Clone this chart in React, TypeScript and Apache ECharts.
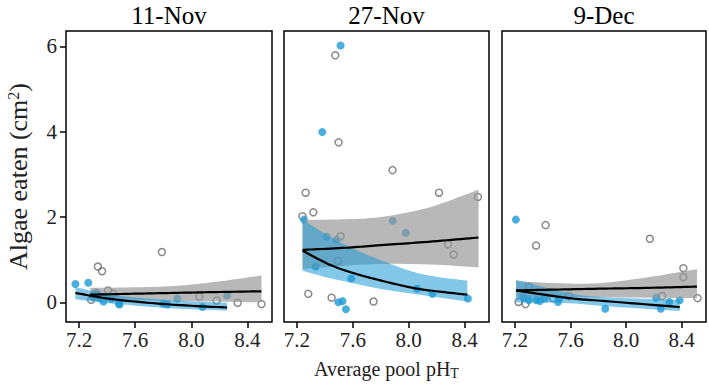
import React, { useEffect, useRef } from "react";
import * as echarts from "echarts";

const panelTitles = ["11-Nov", "27-Nov", "9-Dec"];
const xTicks = [7.2, 7.6, 8.0, 8.4];
const yTicks = [0, 2, 4, 6];

// Blue (filled) points per panel: [pH, algae eaten]
const blueNov11 = [
  [7.174, 0.43], [7.266, 0.46], [7.32, 0.23], [7.33, 0.2], [7.3, 0.12], [7.345, 0.1],
  [7.374, 0.02], [7.4, 0.15], [7.43, 0.08], [7.484, -0.03], [7.488, -0.05],
  [7.8, -0.03], [7.83, -0.05], [7.9, 0.09], [8.08, -0.11], [8.255, 0.16],
];
const greyNov11 = [
  [7.286, 0.06], [7.3, 0.15], [7.334, 0.84], [7.364, 0.73], [7.407, 0.28], [7.445, 0.2],
  [7.79, 1.18], [8.057, 0.14], [8.18, 0.04], [8.33, -0.01], [8.5, -0.04],
];
const blueNov27 = [
  [7.25, 1.94], [7.334, 0.84], [7.381, 3.99], [7.412, 1.54], [7.484, 1.47], [7.496, 0.0],
  [7.512, 6.02], [7.526, 0.03], [7.55, -0.16], [7.589, 0.56], [7.886, 1.91], [7.979, 1.63],
  [8.06, 0.32], [8.17, 0.2], [8.424, 0.09],
];
const greyNov27 = [
  [7.239, 2.02], [7.262, 2.57], [7.281, 0.2], [7.317, 2.11], [7.448, 0.11], [7.474, 5.79],
  [7.493, 0.97], [7.498, 3.75], [7.512, 1.55], [7.748, 0.02], [7.884, 3.1], [8.217, 2.57],
  [8.281, 1.36], [8.322, 1.12], [8.496, 2.47],
];
const blueDec9 = [
  [7.207, 1.94], [7.26, 0.12], [7.3, 0.05], [7.355, 0.05], [7.38, 0.03], [7.414, 0.09],
  [7.51, 0.01], [7.52, 0.09], [7.85, -0.15], [8.216, 0.11], [8.25, -0.15], [8.31, 0.01],
  [8.386, 0.05],
];
const greyDec9 = [
  [7.226, 0.01], [7.276, -0.04], [7.302, 0.37], [7.352, 1.33], [7.421, 1.81], [7.474, 0.1],
  [7.588, 0.15], [8.171, 1.49], [8.26, 0.15], [8.412, 0.8], [8.412, 0.59], [8.514, 0.1],
];

// Fitted curves: [pH, fit, lower, upper]
const fitGreyNov11 = [
  [7.28, 0.18, 0.05, 0.34], [7.55, 0.2, 0.06, 0.35], [7.85, 0.22, 0.03, 0.38],
  [8.15, 0.24, 0.02, 0.47], [8.5, 0.26, 0.0, 0.63],
];
const fitBlueNov11 = [
  [7.174, 0.22, 0.07, 0.36], [7.45, 0.07, -0.03, 0.17], [7.85, -0.05, -0.14, 0.05],
  [8.255, -0.12, -0.19, -0.01],
];
const fitGreyNov27 = [
  [7.24, 1.23, 0.78, 1.93], [7.55, 1.28, 0.86, 1.95], [7.8, 1.34, 0.9, 2.0],
  [8.14, 1.42, 0.89, 2.22], [8.5, 1.52, 0.82, 2.64],
];
const fitBlueNov27 = [
  [7.24, 1.21, 0.74, 1.94], [7.43, 0.89, 0.57, 1.55], [7.59, 0.7, 0.46, 1.28],
  [7.79, 0.52, 0.32, 1.0], [8.03, 0.34, 0.2, 0.72], [8.2, 0.26, 0.12, 0.6],
  [8.42, 0.18, 0.02, 0.51],
];
const fitGreyDec9 = [
  [7.21, 0.28, 0.12, 0.5], [7.5, 0.3, 0.12, 0.45], [7.8, 0.32, 0.12, 0.45],
  [8.16, 0.34, 0.11, 0.59], [8.51, 0.37, 0.1, 0.78],
];
const fitBlueDec9 = [
  [7.207, 0.28, 0.0, 0.53], [7.59, 0.1, -0.02, 0.22], [7.85, 0.03, -0.09, 0.12],
  [8.386, -0.11, -0.2, 0.06],
];

const bluePts = [blueNov11, blueNov27, blueDec9];
const greyPts = [greyNov11, greyNov27, greyDec9];
const greyFits = [fitGreyNov11, fitGreyNov27, fitGreyDec9];
const blueFits = [fitBlueNov11, fitBlueNov27, fitBlueDec9];

const FONT = "Liberation Serif";
const BLUE = "#1d9ad6";
const GREY_RIBBON = "rgba(150,150,150,0.68)";
const BLUE_RIBBON = "rgba(30,155,215,0.55)";

const gridBoxes = [
  { left: 66, top: 31, width: 206, height: 291 },
  { left: 284, top: 31, width: 205, height: 291 },
  { left: 502, top: 31, width: 204, height: 291 },
];

// Catmull-Rom smoothing of pixel points (drawing only)
function spline(pts: number[][], seg = 12): number[][] {
  const n = pts.length;
  if (n < 3) return pts;
  const out: number[][] = [];
  for (let i = 0; i < n - 1; i++) {
    const p0 = pts[Math.max(i - 1, 0)], p1 = pts[i], p2 = pts[i + 1], p3 = pts[Math.min(i + 2, n - 1)];
    for (let s = 0; s < seg; s++) {
      const t = s / seg, t2 = t * t, t3 = t2 * t;
      const f = (a: number, b: number, c: number, d: number) =>
        0.5 * (2 * b + (-a + c) * t + (2 * a - 5 * b + 4 * c - d) * t2 + (-a + 3 * b - 3 * c + d) * t3);
      out.push([f(p0[0], p1[0], p2[0], p3[0]), f(p0[1], p1[1], p2[1], p3[1])]);
    }
  }
  out.push(pts[n - 1]);
  return out;
}

function fitSeries(fit: number[][], i: number, fill: string) {
  return {
    type: "custom", xAxisIndex: i, yAxisIndex: i, data: fit, silent: true, z: 3,
    encode: { x: 0, y: [1, 2, 3] },
    renderItem: (params: any, api: any) => {
      if (params.dataIndexInside !== 0) return null;
      const n = params.dataInsideLength;
      const top: number[][] = [], bot: number[][] = [], mid: number[][] = [];
      for (let k = 0; k < n; k++) {
        const x = api.value(0, k);
        mid.push(api.coord([x, api.value(1, k)]));
        bot.push(api.coord([x, api.value(2, k)]));
        top.push(api.coord([x, api.value(3, k)]));
      }
      const band = spline(top).concat(spline(bot).reverse());
      return {
        type: "group",
        children: [
          { type: "polygon", shape: { points: band }, style: { fill, stroke: null }, z2: 1 },
          { type: "polyline", shape: { points: spline(mid) }, style: { stroke: "#000", lineWidth: 2.2, fill: null }, z2: 10 },
        ],
      };
    },
  };
}

export default function App() {
  const ref = useRef<HTMLDivElement>(null);
  useEffect(() => {
    if (!ref.current) return;
    const chart = echarts.init(ref.current, null, { renderer: "svg" });
    const series: any[] = [];
    for (let i = 0; i < 3; i++) {
      series.push({
        type: "scatter", xAxisIndex: i, yAxisIndex: i, data: greyPts[i], symbol: "circle",
        symbolSize: 7, itemStyle: { color: "rgba(255,255,255,0)", borderColor: "#6b6b6b", borderWidth: 1.5 },
        z: 2, silent: true,
      });
      series.push({
        type: "scatter", xAxisIndex: i, yAxisIndex: i, data: bluePts[i], symbol: "circle",
        symbolSize: 8, itemStyle: { color: BLUE }, z: 2, silent: true,
      });
      series.push(fitSeries(greyFits[i], i, GREY_RIBBON));
      series.push(fitSeries(blueFits[i], i, BLUE_RIBBON));
    }
    chart.setOption({
      animation: false,
      backgroundColor: "#fff",
      textStyle: { fontFamily: FONT },
      grid: gridBoxes.map((g) => ({
        ...g, show: true, borderColor: "#000", borderWidth: 1.5, backgroundColor: "transparent",
      })),
      xAxis: gridBoxes.map((g, i) => ({
        type: "value", gridIndex: i, min: 7.107, max: 8.575,
        axisLine: { show: false, onZero: false }, splitLine: { show: false },
        axisTick: { show: true, inside: false, customValues: xTicks, length: 6, lineStyle: { color: "#000", width: 1.5 } },
        axisLabel: {
          customValues: xTicks, fontSize: 21, color: "#222", fontFamily: FONT, margin: 7,
          formatter: (v: number) => v.toFixed(1),
        },
        ...(i === 1
          ? {
              name: "Average pool pH{sub|T}", nameLocation: "middle", nameGap: 36,
              nameTextStyle: {
                fontSize: 20, color: "#222", fontFamily: FONT,
                rich: { sub: { fontSize: 14, color: "#222", fontFamily: FONT, verticalAlign: "bottom", padding: [8, 0, 0, 0] } },
              },
            }
          : {}),
      })),
      yAxis: gridBoxes.map((g, i) => ({
        type: "value", gridIndex: i, min: -0.46, max: 6.36,
        axisLine: { show: false, onZero: false }, splitLine: { show: false },
        axisTick: { show: i === 0, inside: false, customValues: yTicks, length: 6, lineStyle: { color: "#000", width: 1.5 } },
        axisLabel: { show: i === 0, customValues: yTicks, fontSize: 21, color: "#222", fontFamily: FONT, margin: 9 },
        ...(i === 0
          ? {
              name: "Algae eaten (cm{sup|2})", nameLocation: "middle", nameGap: 35,
              nameTextStyle: {
                fontSize: 26, color: "#222", fontFamily: FONT,
                rich: { sup: { fontSize: 16, color: "#222", fontFamily: FONT, verticalAlign: "top", padding: [0, 0, 8, 0] } },
              },
            }
          : {}),
      })),
      graphic: gridBoxes.map((g, i) => ({
        type: "text", x: g.left + g.width / 2, y: 15,
        style: { text: panelTitles[i], font: `25px "${FONT}"`, fill: "#000", textAlign: "center", textVerticalAlign: "middle" },
      })),
      series,
    });
    return () => chart.dispose();
  }, []);
  return <div ref={ref} style={{ width: 709, height: 387, position: "absolute", left: 0, top: 0 }} />;
}
